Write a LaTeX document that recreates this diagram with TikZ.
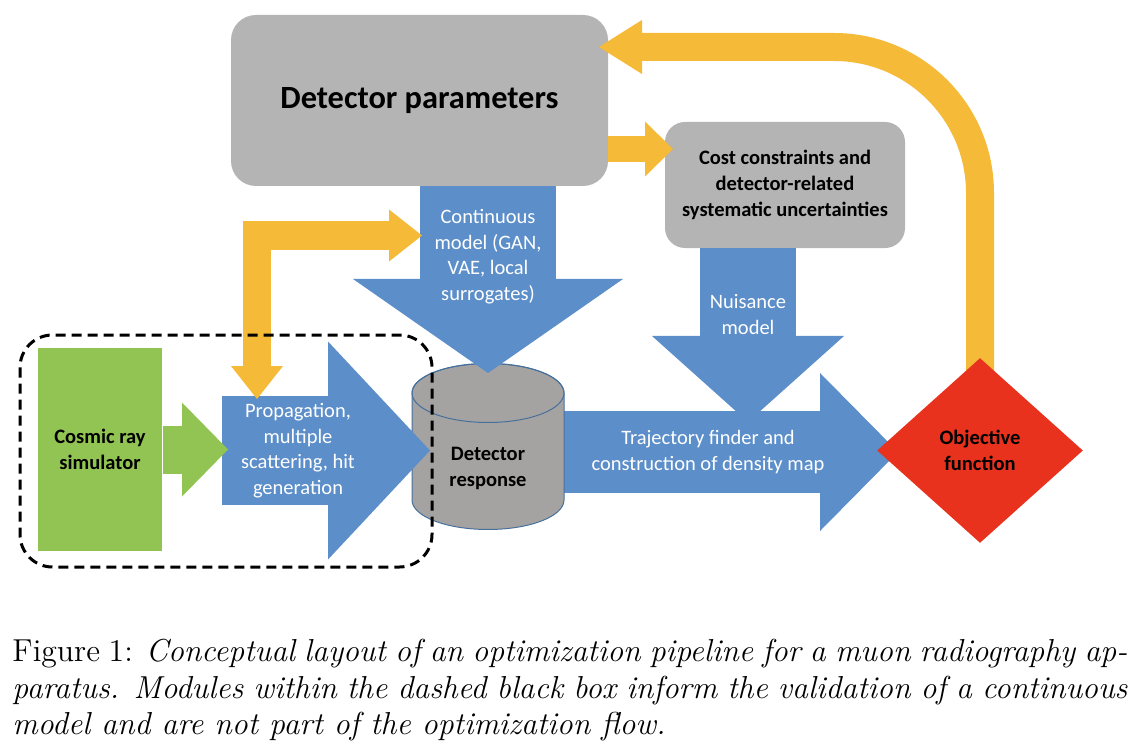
\documentclass[tikz,border=0pt]{standalone}
\usepackage{fontspec}
\usepackage{tikz}
\usetikzlibrary{arrows.meta,shapes.geometric}
\newfontfamily\calibri{Carlito}

\definecolor{boxgray}{RGB}{180,180,180}
\definecolor{cylgray}{RGB}{165,162,162}
\definecolor{cylline}{RGB}{70,112,156}
\definecolor{flowblue}{RGB}{92,142,201}
\definecolor{flowyellow}{RGB}{244,186,56}
\definecolor{simgreen}{RGB}{146,196,84}
\definecolor{objred}{RGB}{233,50,30}

\begin{document}
\begin{tikzpicture}[x=0.4pt,y=-0.4pt,
    graybox/.style={rectangle, fill=boxgray, inner sep=0pt, align=center},
    boldtext/.style={font=\calibri\bfseries\fontsize{8.2}{10.3}\selectfont, align=center},
    arrowtext/.style={font=\calibri\fontsize{8.2}{10.2}\selectfont, text=white, align=center},
    bluearrow/.style={flowblue, line cap=butt},
    yellowarrow/.style={flowyellow, line cap=butt, line join=miter}]

    \useasboundingbox (0,0) rectangle (1138,752);

    % boxes on top
    \node[graybox, rounded corners=10pt, minimum width=150.8pt, minimum height=68.4pt,
        font=\calibri\bfseries\fontsize{12}{14}\selectfont] (params) at (419.5,100.5) {\scalebox{1.08}{Detector parameters}};
    \node[graybox, rounded corners=8pt, minimum width=96pt, minimum height=50.4pt, boldtext] (cost) at (785,185)
        {Cost constraints and\\detector-related\\systematic uncertainties};

    % end points of the block arrows
    \coordinate (trajstart) at (540,452);
    \coordinate (trajtip) at (898,452);
    \coordinate (propstart) at (222,450.5);
    \coordinate (proptip) at (430,450.5);
    \coordinate (cmstart) at (488,186);
    \coordinate (cmtip) at (488,373);
    \coordinate (nustart) at (748,248);
    \coordinate (nutip) at (748,422);

    \draw[bluearrow, line width=32.8pt, -{Triangle[width=63.2pt,length=31.2pt,line width=0pt]}] (trajstart) -- (trajtip);

    % detector response (cylinder)
    \filldraw[fill=cylgray, draw=cylline, line width=0.4pt]
        (412,393) -- (412,500) arc[start angle=180, end angle=0, x radius=76, y radius=29.5]
        -- (564,393) arc[start angle=0, end angle=-180, x radius=76, y radius=29.5] -- cycle;
    \draw[cylline, line width=0.4pt] (488,393) ellipse[x radius=76, y radius=29.5];
    \node[boldtext] (resp) at (488,468.5) {Detector\\response};

    \draw[bluearrow, line width=43.6pt, -{Triangle[width=87.2pt,length=40.8pt,line width=0pt]}] (propstart) -- (proptip);
    \draw[bluearrow, line width=54.4pt, -{Triangle[width=108pt,length=37.6pt,line width=0pt]}] (cmstart) -- (cmtip);
    \draw[bluearrow, line width=38.4pt, -{Triangle[width=76.8pt,length=34.4pt,line width=0pt]}] (nustart) -- (nutip);

    % simulator
    \node[rectangle, fill=simgreen, minimum width=49.6pt, minimum height=81.2pt, boldtext] (sim) at (100,449.5)
        {Cosmic ray\\simulator};
    \coordinate (simtip) at (228,449.5);
    \draw[simgreen, line cap=butt, line width=19.2pt, -{Triangle[width=37.6pt,length=18.4pt,line width=0pt]}] (sim.east) -- (simtip);

    % feedback loop
    \coordinate (fbstart) at (980,420);
    \coordinate (fbcorner) at (980,47);
    \coordinate (fbtip) at (599,47);
    \draw[yellowarrow, line width=11.2pt, rounded corners=58.4pt, -{Triangle[width=21.6pt,length=17.2pt,line width=0pt]}]
        (fbstart) -- (fbcorner) -- (fbtip);

    \node[diamond, fill=objred, minimum width=82.4pt, minimum height=74pt, inner sep=0pt, boldtext] (obj) at (980,450.5)
        {Objective\\function};

    \coordinate (costin) at (608,149);
    \coordinate (costtip) at (673,149);
    \draw[yellowarrow, line width=10.4pt, -{Triangle[width=22pt,length=11.2pt,line width=0pt]}] (costin) -- (costtip);

    \coordinate (lprop) at (257,399);
    \coordinate (lcorner) at (257,235.5);
    \coordinate (lcm) at (422,235.5);
    \draw[yellowarrow, line width=11.4pt, {Triangle[width=20.8pt,length=13.2pt,line width=0pt]}-{Triangle[width=20.8pt,length=13.2pt,line width=0pt]}]
        (lprop) -- (lcorner) -- (lcm);

    % texts in the block arrows
    \node[arrowtext] (cmtext) at (488,256.5) {Continuous\\model (GAN,\\VAE, local\\surrogates)};
    \node[arrowtext] (nutext) at (748,314.5) {Nuisance\\model};
    \node[arrowtext] (proptext) at (298,450.5) {Propagation,\\multiple\\scattering, hit\\generation};
    \node[arrowtext] (trajtext) at (708,452) {Trajectory finder and\\construction of density map};

    % validation only
    \draw[line width=1.2pt, dash pattern=on 4pt off 2.4pt, rounded corners=13pt] (20,335) rectangle (432,567);

    \node[anchor=north west, inner sep=0pt] (caption) at (12,639)
        {\scalebox{1.058}{\parbox[t]{421.5pt}{\fontsize{12}{13.7}\selectfont
        Figure 1: \textit{Conceptual layout of an optimization pipeline for a muon radiography ap-\linebreak
        paratus. Modules within the dashed black box inform the validation of a continuous\linebreak
        model and are not part of the optimization flow.}}}};
\end{tikzpicture}
\end{document}
